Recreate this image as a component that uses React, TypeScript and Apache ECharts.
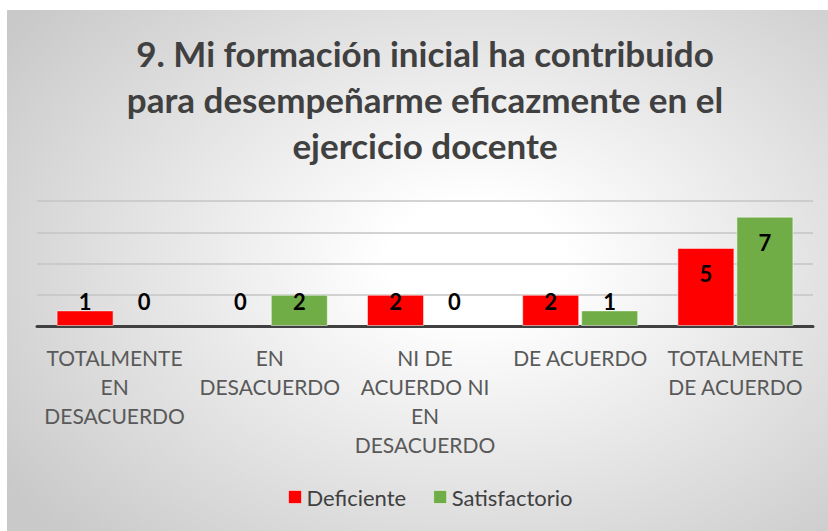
import React, { useEffect, useRef } from "react";
import * as echarts from "echarts";

const categories = [
  "TOTALMENTE\nEN\nDESACUERDO",
  "EN\nDESACUERDO",
  "NI DE\nACUERDO NI\nEN\nDESACUERDO",
  "DE ACUERDO",
  "TOTALMENTE\nDE ACUERDO",
];
const deficiente = [1, 0, 2, 2, 5];
const satisfactorio = [0, 2, 0, 1, 7];
const seriesNames = ["Deficiente", "Satisfactorio"];
const titleLines = [
  "9. Mi formación inicial ha contribuido",
  "para desempeñarme eficazmente en el",
  "ejercicio docente",
];

const FONT = "Lato, 'Open Sans', sans-serif";

function withLabels(values: number[]) {
  return values.map((v) => ({
    value: v,
    itemStyle: v === 0 ? { borderWidth: 0 } : undefined,
    label: {
      position: v >= 3 ? "insideTop" : "insideBottom",
      distance: v >= 3 ? 15 : 14,
    },
  }));
}

export default function App() {
  const ref = useRef<HTMLDivElement>(null);
  useEffect(() => {
    if (!ref.current) return;
    const chart = echarts.init(ref.current, undefined, { renderer: "svg" });
    const labelStyle = {
      show: true,
      color: "#000",
      fontFamily: FONT,
      fontWeight: "bold" as const,
      fontSize: 22,
    };
    chart.setOption({
      animation: false,
      backgroundColor: "transparent",
      textStyle: { fontFamily: FONT },
      graphic: [
        {
          type: "text",
          x: 418,
          y: 89,
          style: {
            text: titleLines.join("\n"),
            align: "center",
            verticalAlign: "middle",
            font: `bold 35px ${FONT}`,
            lineHeight: 46,
            fill: "#404040",
          },
        },
      ],
      legend: {
        left: 276,
        top: 471,
        icon: "rect",
        itemWidth: 13,
        itemHeight: 13,
        itemGap: 27,
        itemStyle: { borderColor: "rgba(255,255,255,0.5)", borderWidth: 1 },
        textStyle: { color: "#404040", fontSize: 22, fontFamily: FONT },
        data: seriesNames,
      },
      grid: { left: 30, right: 15, top: 191, bottom: 205, containLabel: false },
      xAxis: {
        type: "category",
        data: categories,
        axisLine: { lineStyle: { color: "#404040", width: 3 } },
        axisTick: { show: false },
        axisLabel: {
          color: "#595959",
          fontSize: 21,
          lineHeight: 29,
          margin: 17,
          fontFamily: FONT,
          interval: 0,
        },
      },
      yAxis: {
        type: "value",
        min: 0,
        max: 8,
        interval: 2,
        axisLabel: { show: false },
        axisLine: { show: false },
        axisTick: { show: false },
        splitLine: { lineStyle: { color: "#c4c4c4", width: 1.5 } },
      },
      series: [
        {
          name: seriesNames[0],
          type: "bar",
          data: withLabels(deficiente),
          barWidth: 57,
          barGap: "3.5%",
          itemStyle: { color: "#FF0000", borderColor: "rgba(255,255,255,0.5)", borderWidth: 1 },
          label: labelStyle,
        },
        {
          name: seriesNames[1],
          type: "bar",
          data: withLabels(satisfactorio),
          barWidth: 57,
          barGap: "3.5%",
          itemStyle: { color: "#70AD47", borderColor: "rgba(255,255,255,0.5)", borderWidth: 1 },
          label: labelStyle,
        },
      ],
    });
    return () => chart.dispose();
  }, []);

  return (
    <div
      style={{
        position: "fixed",
        left: 0,
        top: 0,
        width: 828,
        height: 531,
        background: "#ffffff",
        overflow: "hidden",
      }}
    >
      <div
        ref={ref}
        style={{
          position: "absolute",
          left: 7,
          top: 10,
          width: 821,
          height: 521,
          background:
            "radial-gradient(ellipse 70% 75% at 57% 48%, #ffffff 15%, #c9c9c9 100%)",
        }}
      />
    </div>
  );
}
